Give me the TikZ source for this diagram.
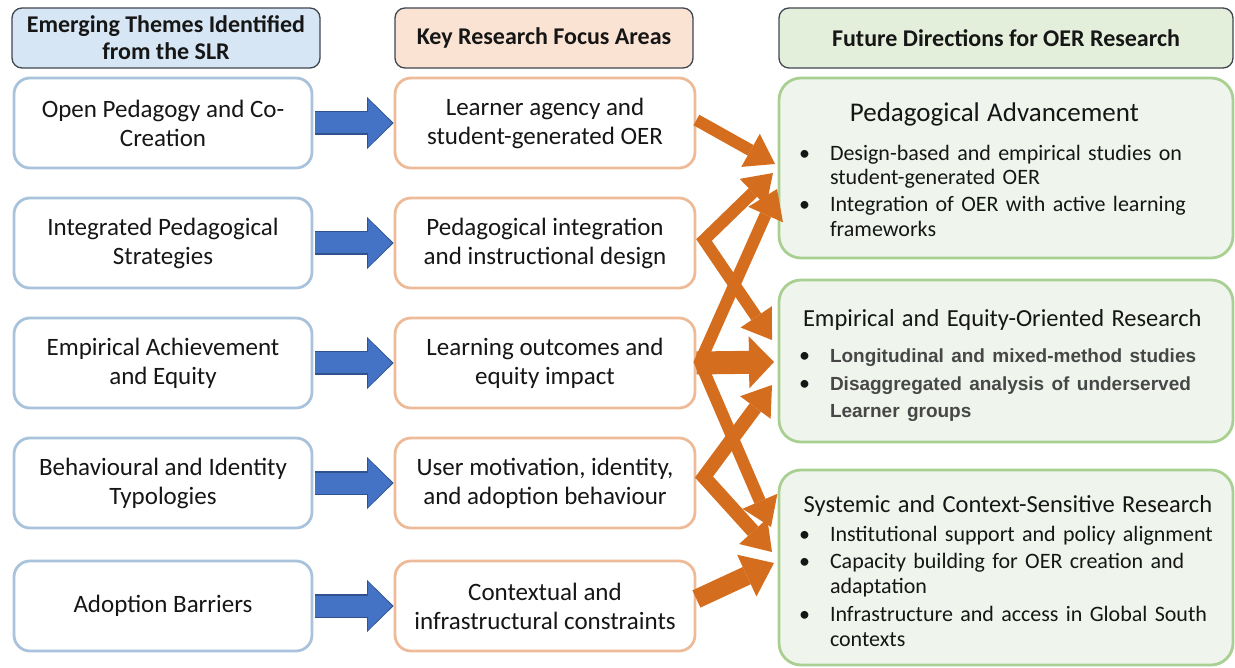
\documentclass[tikz,border=0pt]{standalone}
\usepackage{fontspec}
\setmainfont{Carlito}
\newfontfamily\arialfont{Liberation Sans}
\usetikzlibrary{arrows.meta,calc}
\definecolor{hdrblue}{HTML}{D7E6F4}
\definecolor{hdrorange}{HTML}{FBE3D3}
\definecolor{hdrgreen}{HTML}{E3EFDA}
\definecolor{hdredge}{HTML}{3F4650}
\definecolor{lblue}{HTML}{A8C3DB}
\definecolor{lorange}{HTML}{EDBB98}
\definecolor{lgreen}{HTML}{AACF92}
\definecolor{rfill}{HTML}{EFF5EC}
\definecolor{arrblue}{HTML}{4472C4}
\definecolor{arrbluedk}{HTML}{2F528F}
\definecolor{arrorange}{HTML}{D46E1E}
\definecolor{txt}{HTML}{161616}
\definecolor{graytxt}{HTML}{474747}
\newcommand\bul{\makebox[27pt][l]{\hspace*{-4pt}\textbullet}}
\newcommand\ind{\hspace*{27pt}}
\newcommand\eb{\arialfont\bfseries\color{graytxt}\fontsize{19}{25}\selectfont}
\begin{document}
\begin{tikzpicture}[x=1pt,y=-1pt,
  hdr/.style={draw=hdredge, line width=1.3pt, rounded corners=10pt, minimum height=60pt,
    font=\fontsize{24}{27}\selectfont\bfseries, text=txt, align=center, inner sep=0pt},
  lbox/.style={draw=lblue, fill=white, line width=2.8pt, rounded corners=16pt,
    minimum width=298pt, minimum height=90pt, font=\fontsize{25}{29}\selectfont,
    align=center, text=txt, inner sep=0pt},
  mbox/.style={lbox, draw=lorange, minimum width=300pt},
  rbox/.style={draw=lgreen, fill=rfill, line width=2.8pt, rounded corners=22pt,
    minimum width=454pt, text width=406pt, inner xsep=24pt, inner ysep=0pt,
    align=left, text=txt, font=\fontsize{22}{25}\selectfont},
  barrow/.style={draw=arrblue, line width=21pt, shorten >=1.5pt, shorten <=2pt,
    -{Triangle[length=24pt,width=48pt,line width=0pt]},
    preaction={draw=arrbluedk, line width=23.5pt, shorten >=0pt,
      -{Triangle[length=26.5pt,width=52pt,line width=0pt]}}},
  oarrow/.style={draw=arrorange, line width=#1, line join=miter,
    -{Triangle[length=28pt,width=38pt,line width=0pt]}},
  obiarrow/.style={draw=arrorange, line width=#1, line join=miter,
    {Triangle[length=28pt,width=38pt,line width=0pt]}-{Triangle[length=28pt,width=38pt,line width=0pt]}},
]
\useasboundingbox (0,0) rectangle (1235,668);

% headers
\node[hdr, fill=hdrblue, minimum width=308pt] (h1) at (166,38) {Emerging Themes Identified\\from the SLR};
\node[hdr, fill=hdrorange, minimum width=298pt] (h2) at (544,38) {Key Research Focus Areas};
\node[hdr, fill=hdrgreen, minimum width=454pt] (h3) at (1006,38) {Future Directions for OER Research};

% left column
\node[lbox] (l1) at (163,123) {Open Pedagogy and Co-\\Creation};
\node[lbox] (l2) at (163,243) {Integrated Pedagogical\\Strategies};
\node[lbox] (l3) at (163,363) {Empirical Achievement\\and Equity};
\node[lbox] (l4) at (163,483) {Behavioural and Identity\\Typologies};
\node[lbox] (l5) at (163,606) {Adoption Barriers};

% middle column
\node[mbox] (m1) at (545,123) {Learner agency and\\student-generated OER};
\node[mbox] (m2) at (545,243) {Pedagogical integration\\and instructional design};
\node[mbox] (m3) at (545,363) {Learning outcomes and\\equity impact};
\node[mbox] (m4) at (545,483) {User motivation, identity,\\and adoption behaviour};
\node[mbox] (m5) at (545,606) {Contextual and\\infrastructural constraints};

% right column
\node[rbox, minimum height=180pt] (r1) at (1006,168) {%
\begin{tabular}{@{}l@{}}
\multicolumn{1}{@{}c@{}}{\fontsize{27}{30}\selectfont Pedagogical Advancement}\\[14pt]
\bul Design-based and empirical studies on\\[-1pt]
\ind student-generated OER\\[2pt]
\bul Integration of OER with active learning\\
\ind frameworks
\end{tabular}\vspace{-10pt}};
\node[rbox, minimum height=162pt] (r2) at (1006,361) {%
\begin{tabular}{@{}l@{}}
\multicolumn{1}{@{}c@{}}{\fontsize{24.5}{28}\selectfont Empirical and Equity-Oriented Research}\\[11pt]
\bul{\eb Longitudinal and mixed-method studies}\\[3pt]
\bul{\eb Disaggregated analysis of underserved}\\[2pt]
\ind{\eb Learner groups}
\end{tabular}\vspace{-12pt}};
\node[rbox, minimum height=195pt] (r3) at (1006,567.5) {%
\begin{tabular}{@{}l@{}}
\multicolumn{1}{@{}c@{}}{\fontsize{24.5}{28}\selectfont Systemic and Context-Sensitive Research}\\[4pt]
\bul Institutional support and policy alignment\\[2pt]
\bul Capacity building for OER creation and\\
\ind adaptation\\[3pt]
\bul Infrastructure and access in Global South\\
\ind contexts
\end{tabular}\vspace{-14pt}};

% blue arrows
\foreach \i in {1,...,5} \draw[barrow] (l\i.east) -- (m\i.west);

% orange arrow targets
\coordinate (t1a) at (775,164);
\coordinate (t1b) at (773,173);
\coordinate (t1c) at (777,189);
\coordinate (t2a) at (772,340);
\coordinate (t2b) at (774,362);
\coordinate (t2c) at (772,385);
\coordinate (t3a) at (771,527);
\coordinate (t3b) at (772,552);
\coordinate (t3c) at (774,563);
\coordinate (v2) at (704,240);
\coordinate (v3) at (700,362);
\coordinate (v4) at (704,477);

% orange arrows
\draw[oarrow=12pt] ($(m1.east)+(0,-3)$) -- (t1a);
\draw[obiarrow=12pt] (t1b) -- (v2) -- (t2a);
\draw[obiarrow=12pt] (t1c) -- (v3) -- (t3a);
\draw[draw=arrorange, line width=23pt, -{Triangle[length=25pt,width=52pt,line width=0pt]}] (m3.east) -- (t2b);
\draw[obiarrow=14pt] (t2c) -- (v4) -- (t3b);
\draw[draw=arrorange, line width=19pt, -{Triangle[length=30pt,width=46pt,line width=0pt]}] ($(m5.east)+(0,-7)$) -- (t3c);
\end{tikzpicture}
\end{document}
